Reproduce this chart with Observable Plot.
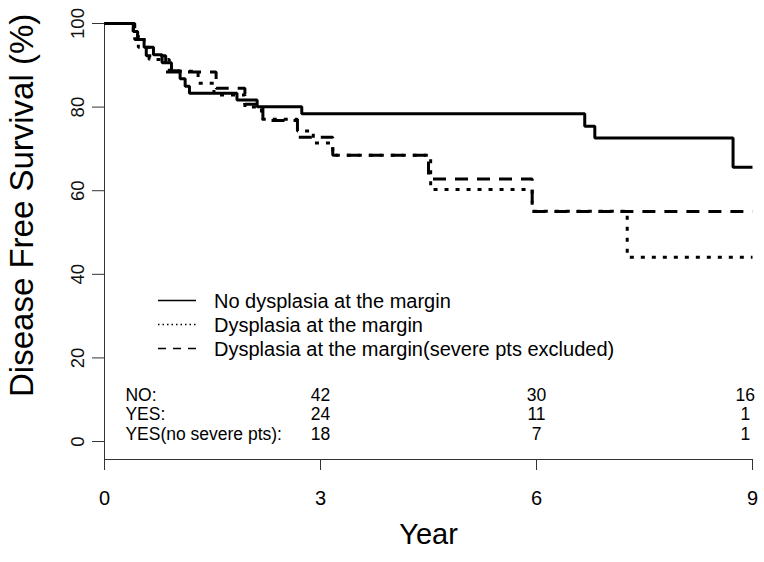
<!DOCTYPE html>
<html>
<head>
<meta charset="utf-8">
<script src="https://cdn.jsdelivr.net/npm/d3@7"></script>
<script src="https://cdn.jsdelivr.net/npm/@observablehq/plot@0.6"></script>
<style>
  html, body { margin: 0; padding: 0; background: #fff; }
  #chart { width: 764px; height: 562px; position: relative; }
  svg { font-family: "Liberation Sans", Arial, sans-serif; color: #000; }
</style>
</head>
<body>
<div id="chart"></div>
<script>
// ---- data ----
const xTicks = [0, 3, 6, 9];
const yTicks = [0, 20, 40, 60, 80, 100];

const noTime = [0, 0.40, 0.46, 0.55, 0.68, 0.80, 0.93, 1.05, 1.12, 1.18, 1.84, 2.12, 2.74, 6.67, 6.81, 8.73, 9];
const noSurv = [100, 98.1, 96.2, 94.3, 92.5, 90.6, 88.7, 86.8, 85.0, 83.3, 81.7, 80.1, 78.4, 75.4, 72.6, 65.6, 65.6];

const yesTime = [0, 0.40, 0.47, 0.62, 0.90, 1.30, 1.52, 1.95, 2.18, 2.68, 2.90, 3.17, 4.53, 5.94, 7.26, 9];
const yesSurv = [100, 97.1, 94.3, 91.4, 88.6, 85.7, 82.9, 80.0, 77.1, 74.3, 71.4, 68.5, 60.3, 55.1, 44.1, 44.1];

const nsTime = [0, 0.42, 0.58, 0.85, 1.55, 1.95, 2.20, 2.68, 3.17, 4.50, 5.94, 9];
const nsSurv = [100, 96.2, 92.3, 88.4, 84.5, 80.7, 76.8, 72.8, 68.5, 62.8, 55.0, 55.0];

const legendLabels = ["No dysplasia at the margin", "Dysplasia at the margin", "Dysplasia at the margin(severe pts excluded)"];
const groupLabels = ["NO:", "YES:", "YES(no severe pts):"];
const riskTimes = [3, 6, 8.9];
const riskNo = [42, 30, 16];
const riskYes = [24, 11, 1];
const riskYesNS = [18, 7, 1];

// ---- build tables ----
const toRows = (ts, ss) => ts.map((t, i) => ({t, s: ss[i]}));
const noRows = toRows(noTime, noSurv);
const yesRows = toRows(yesTime, yesSurv);
const nsRows = toRows(nsTime, nsSurv);
const riskRows = [riskNo, riskYes, riskYesNS];
const rowDy = [-59, -40, -20];

const yMin = -4.3;

const marks = [
  // axis lines
  Plot.ruleX([0], {y1: yMin, y2: 100, stroke: "#333", strokeWidth: 1}),
  Plot.ruleY([yMin], {x1: 0, x2: 9, stroke: "#333", strokeWidth: 1}),
  Plot.axisX({ticks: xTicks, tickSize: 11, tickPadding: 20, fontSize: 20, label: null, stroke: "#333"}),
  Plot.axisY({ticks: yTicks, tickSize: 12, tickFormat: () => "", label: null, stroke: "#333"}),
  Plot.text(yTicks, {x: 0, y: d => d, text: d => String(d), rotate: -90, dx: -26, fontSize: 18.5, fill: "#111"}),
  Plot.text(["Disease Free Survival (%)"], {x: 0, y: 56.5, rotate: -90, dx: -82, fontSize: 33}),
  Plot.text(["Year"], {x: 4.5, frameAnchor: "bottom", dy: 84, fontSize: 29}),
  // curves
  Plot.line(nsRows, {x: "t", y: "s", curve: "step-after", stroke: "#000", strokeWidth: 3, strokeDasharray: "13,9", strokeLinecap: "butt", strokeLinejoin: "miter"}),
  Plot.line(yesRows, {x: "t", y: "s", curve: "step-after", stroke: "#000", strokeWidth: 3, strokeDasharray: "4,7", strokeLinecap: "butt", strokeLinejoin: "miter"}),
  Plot.line(noRows, {x: "t", y: "s", curve: "step-after", stroke: "#000", strokeWidth: 3, strokeLinecap: "butt", strokeLinejoin: "miter"})
];

// risk table
groupLabels.forEach((g, i) => {
  marks.push(Plot.text([g], {x: 0.29, frameAnchor: "bottom", dy: rowDy[i], textAnchor: "start", fontSize: 17.5}));
  marks.push(Plot.text(riskTimes, {x: d => d, frameAnchor: "bottom", dy: rowDy[i], text: (d, j) => String(riskRows[i][j]), fontSize: 17.5}));
});

const plot = Plot.plot({
  width: 764,
  height: 562,
  marginLeft: 104,
  marginRight: 12,
  marginTop: 23,
  marginBottom: 103,
  x: {domain: [0, 9]},
  y: {domain: [yMin, 100]},
  marks
});
document.getElementById("chart").appendChild(plot);

// legend (inside plot area)
const svg = d3.select(plot);
const lg = svg.append("g").attr("font-family", '"Liberation Sans", Arial, sans-serif').attr("text-anchor", "start");
const dashes = [null, "1.5,3", "8,7"];
const ly = [300.5, 324.5, 348.5];
legendLabels.forEach((lab, i) => {
  const l = lg.append("line")
    .attr("x1", 158).attr("x2", 196).attr("y1", ly[i]).attr("y2", ly[i])
    .attr("stroke", "#000").attr("stroke-width", 1.3);
  if (dashes[i]) l.attr("stroke-dasharray", dashes[i]);
  lg.append("text").attr("x", 214).attr("y", ly[i]).attr("dy", "0.36em")
    .attr("text-anchor", "start")
    .attr("font-size", 20).attr("fill", "#000").text(lab);
});
</script>
</body>
</html>
